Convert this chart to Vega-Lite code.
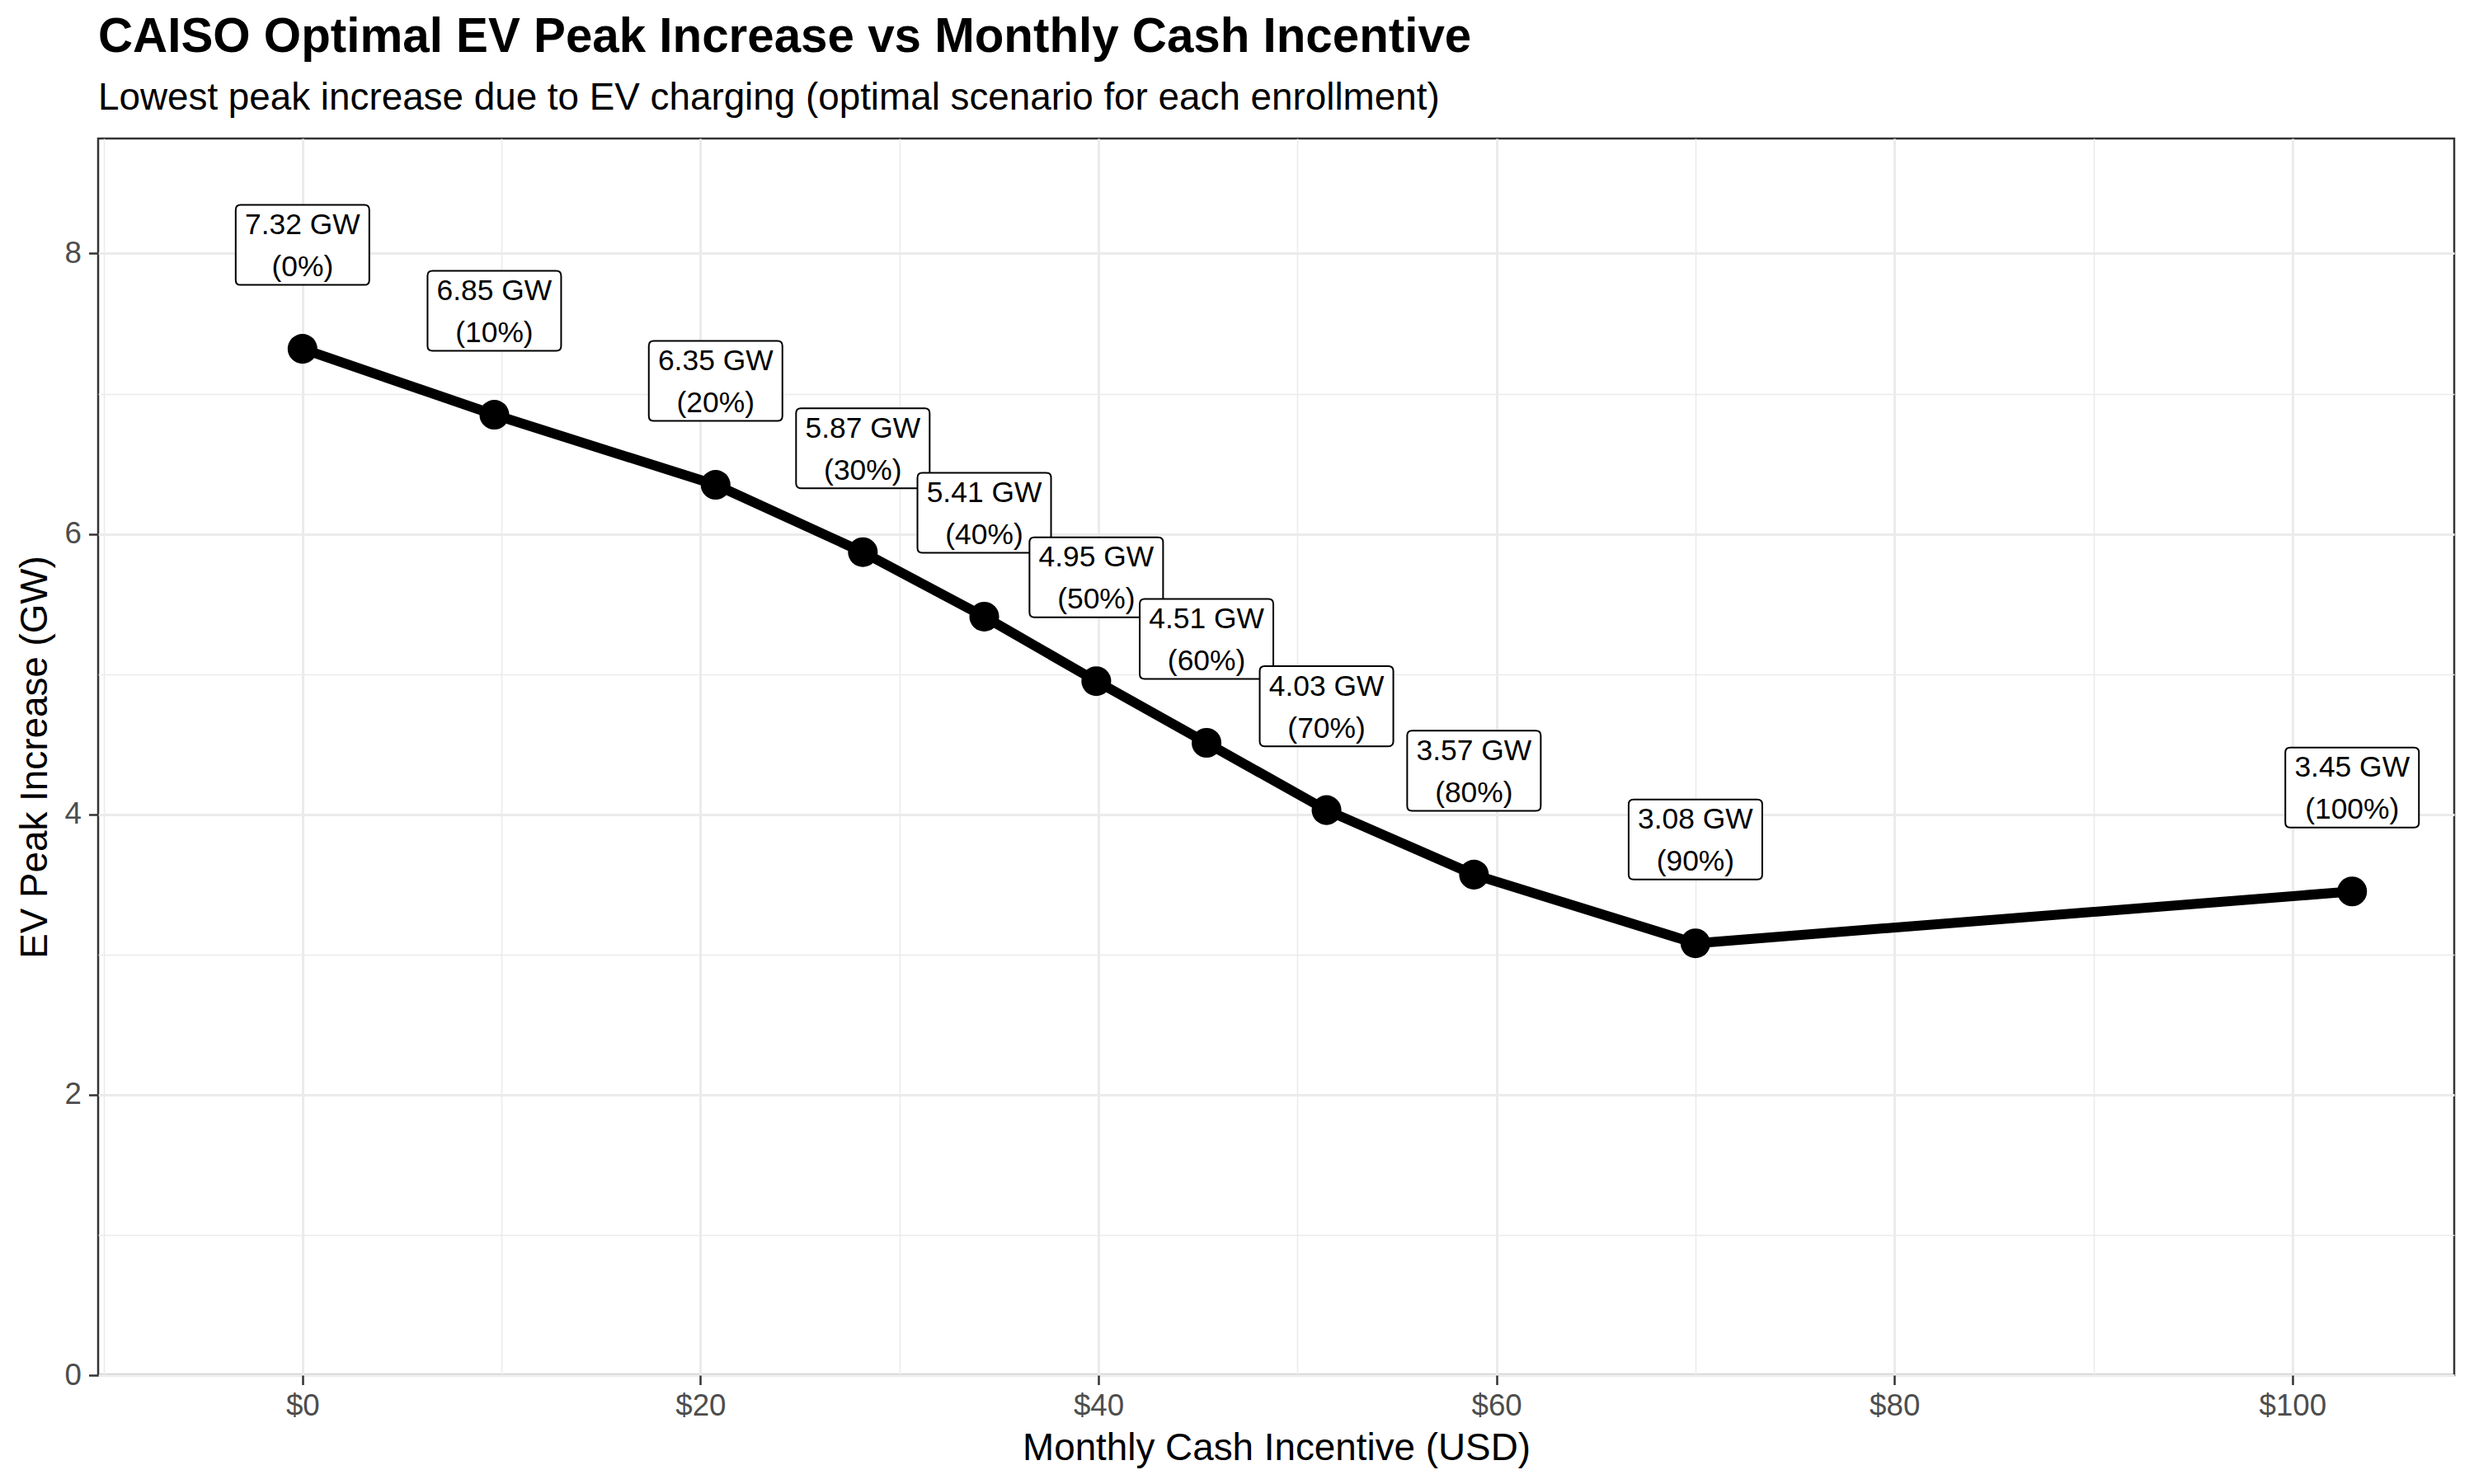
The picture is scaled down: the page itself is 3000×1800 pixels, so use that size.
{
  "$schema": "https://vega.github.io/schema/vega-lite/v6.json",
  "width": 2857,
  "height": 1500,
  "autosize": {"type": "none"},
  "padding": {"left": 119, "top": 168, "right": 24, "bottom": 132},
  "background": "white",
  "title": {
    "text": "CAISO Optimal EV Peak Increase vs Monthly Cash Incentive",
    "subtitle": "Lowest peak increase due to EV charging (optimal scenario for each enrollment)",
    "anchor": "start",
    "frame": "group",
    "font": "Liberation Sans",
    "fontSize": 58.3,
    "fontWeight": "bold",
    "color": "#000000",
    "subtitleFont": "Liberation Sans",
    "subtitleFontSize": 45.8,
    "subtitleColor": "#000000",
    "subtitlePadding": 22,
    "offset": 25
  },
  "config": {
    "view": {"stroke": "#333333", "strokeWidth": 2.5},
    "axis": {
      "labelFont": "Liberation Sans",
      "labelFontSize": 36.7,
      "labelColor": "#4D4D4D",
      "titleFont": "Liberation Sans",
      "titleFontSize": 45.8,
      "titleFontWeight": "normal",
      "titleColor": "#000000",
      "gridColor": "#EBEBEB",
      "tickColor": "#333333",
      "tickWidth": 2.5,
      "tickSize": 11.5,
      "domain": false,
      "labelFlush": false,
      "labelOverlap": false
    }
  },
  "data": {
    "values": [
      {"incentive": 0, "peak": 7.32, "label": "7.32 GW\n(0%)"},
      {"incentive": 9.64, "peak": 6.85, "label": "6.85 GW\n(10%)"},
      {"incentive": 20.76, "peak": 6.35, "label": "6.35 GW\n(20%)"},
      {"incentive": 28.16, "peak": 5.87, "label": "5.87 GW\n(30%)"},
      {"incentive": 34.26, "peak": 5.41, "label": "5.41 GW\n(40%)"},
      {"incentive": 39.89, "peak": 4.95, "label": "4.95 GW\n(50%)"},
      {"incentive": 45.43, "peak": 4.51, "label": "4.51 GW\n(60%)"},
      {"incentive": 51.46, "peak": 4.03, "label": "4.03 GW\n(70%)"},
      {"incentive": 58.87, "peak": 3.57, "label": "3.57 GW\n(80%)"},
      {"incentive": 70.0, "peak": 3.08, "label": "3.08 GW\n(90%)"},
      {"incentive": 103.0, "peak": 3.45, "label": "3.45 GW\n(100%)"}
    ]
  },
  "layer": [
    {
      "mark": {"type": "point", "opacity": 0},
      "encoding": {
        "x": {
          "field": "incentive", "type": "quantitative",
          "scale": {"domain": [-10.27, 108.13], "nice": false, "zero": false},
          "axis": {"orient": "top", "values": [-10, 10, 30, 50, 70, 90], "grid": true, "gridWidth": 1.6, "labels": false, "ticks": false, "domain": false, "title": null}
        },
        "y": {
          "field": "peak", "type": "quantitative",
          "scale": {"domain": [0, 8.82], "nice": false, "zero": false},
          "axis": {"orient": "right", "values": [1, 3, 5, 7], "grid": true, "gridWidth": 1.6, "labels": false, "ticks": false, "domain": false, "title": null}
        }
      }
    },
    {
      "layer": [
        {
          "mark": {"type": "line", "color": "#000000", "strokeWidth": 12, "strokeJoin": "round"}
        },
        {
          "mark": {"type": "point", "filled": true, "color": "#000000", "size": 1300, "opacity": 1}
        },
        {
          "mark": {
            "type": "point",
            "shape": "M-0.926,-0.599 H0.926 Q1,-0.599 1,-0.525 V0.525 Q1,0.599 0.926,0.599 H-0.926 Q-1,0.599 -1,0.525 V-0.525 Q-1,-0.599 -0.926,-0.599 Z",
            "size": 26244,
            "filled": true,
            "fill": "#FFFFFF",
            "stroke": "#000000",
            "strokeWidth": 2,
            "opacity": 1,
            "yOffset": -126
          }
        },
        {
          "mark": {
            "type": "text",
            "font": "Liberation Sans",
            "fontSize": 35.4,
            "color": "#000000",
            "align": "center",
            "baseline": "middle",
            "lineBreak": "\n",
            "lineHeight": 51,
            "yOffset": -150
          },
          "encoding": {"text": {"field": "label", "type": "nominal"}}
        }
      ],
      "encoding": {
        "x": {
          "field": "incentive", "type": "quantitative",
          "scale": {"domain": [-10.27, 108.13], "nice": false, "zero": false},
          "axis": {"orient": "bottom", "values": [0, 20, 40, 60, 80, 100], "labelExpr": "'$' + datum.value", "grid": true, "gridWidth": 3, "labelPadding": 8, "titlePadding": 10, "title": "Monthly Cash Incentive (USD)"}
        },
        "y": {
          "field": "peak", "type": "quantitative",
          "scale": {"domain": [0, 8.82], "nice": false, "zero": false},
          "axis": {"orient": "left", "values": [0, 2, 4, 6, 8], "grid": true, "gridWidth": 3, "labelPadding": 9, "titlePadding": 12, "title": "EV Peak Increase (GW)"}
        }
      }
    }
  ],
  "resolve": {"axis": {"x": "independent", "y": "independent"}}
}
